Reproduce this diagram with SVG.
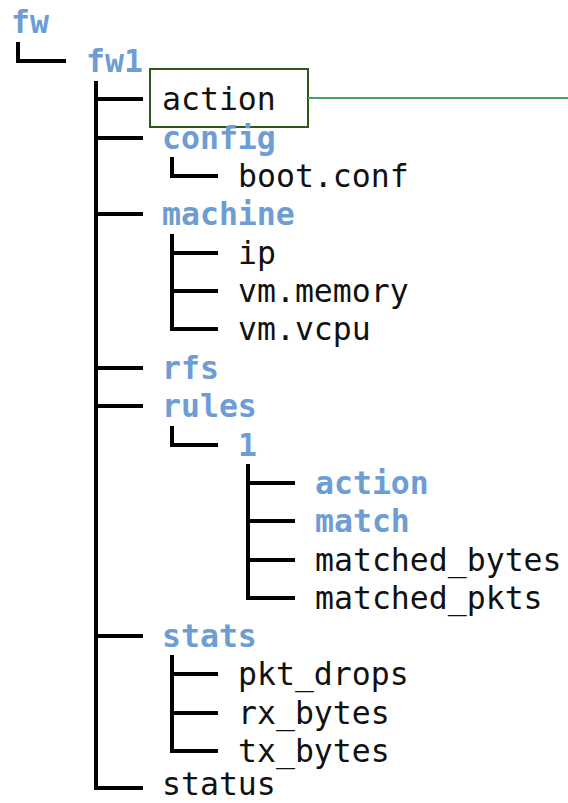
<svg xmlns="http://www.w3.org/2000/svg" width="568" height="803" viewBox="0 0 568 803">
<style>
text{font-family:"DejaVu Sans Mono","Liberation Mono",monospace;font-size:31.5px;fill:#111}
.d{fill:#6d9dd3;font-weight:bold}
.c path{fill:none;stroke:#000;stroke-width:4;stroke-linejoin:miter}
</style>
<rect width="568" height="803" fill="#fff"/>
<g class="c" id="connectors">
<path d="M18 42 V61 H66"/>
<path d="M96 81 V788 H143 M96 99 H143 M96 138 H143 M96 214 H143 M96 368 H143 M96 406 H143 M96 636 H143"/>
<path d="M172 157 V176 H218"/>
<path d="M172 234 V329 H218 M172 253 H218 M172 291 H218"/>
<path d="M172 426 V445 H218"/>
<path d="M248 464 V598 H295 M248 483 H295 M248 521 H295 M248 560 H295"/>
<path d="M172 655 V751 H218 M172 674 H218 M172 713 H218"/>
</g>
<g id="callout">
<rect x="150" y="69" width="158" height="58" fill="none" stroke="#2d5a1b" stroke-width="2"/>
<line x1="308" y1="98" x2="568" y2="98" stroke="#4a9e6e" stroke-width="2"/>
</g>
<g id="n-fw"><text x="11" y="33" class="d">fw</text></g>
<g id="n-fw1"><text x="86" y="72" class="d">fw1</text></g>
<g id="n-action"><text x="162" y="110">action</text></g>
<g id="n-config"><text x="162" y="149" class="d">config</text></g>
<g id="n-boot"><text x="238" y="187">boot.conf</text></g>
<g id="n-machine"><text x="162" y="225" class="d">machine</text></g>
<g id="n-ip"><text x="238" y="264">ip</text></g>
<g id="n-vmmem"><text x="238" y="302">vm.memory</text></g>
<g id="n-vmcpu"><text x="238" y="340">vm.vcpu</text></g>
<g id="n-rfs"><text x="162" y="379" class="d">rfs</text></g>
<g id="n-rules"><text x="162" y="417" class="d">rules</text></g>
<g id="n-1"><text x="238" y="456" class="d">1</text></g>
<g id="n-raction"><text x="315" y="494" class="d">action</text></g>
<g id="n-match"><text x="315" y="532" class="d">match</text></g>
<g id="n-mbytes"><text x="315" y="571">matched_bytes</text></g>
<g id="n-mpkts"><text x="315" y="609">matched_pkts</text></g>
<g id="n-stats"><text x="162" y="647" class="d">stats</text></g>
<g id="n-pktdrops"><text x="238" y="685">pkt_drops</text></g>
<g id="n-rx"><text x="238" y="724">rx_bytes</text></g>
<g id="n-tx"><text x="238" y="762">tx_bytes</text></g>
<g id="n-status"><text x="162" y="795">status</text></g>
</svg>
